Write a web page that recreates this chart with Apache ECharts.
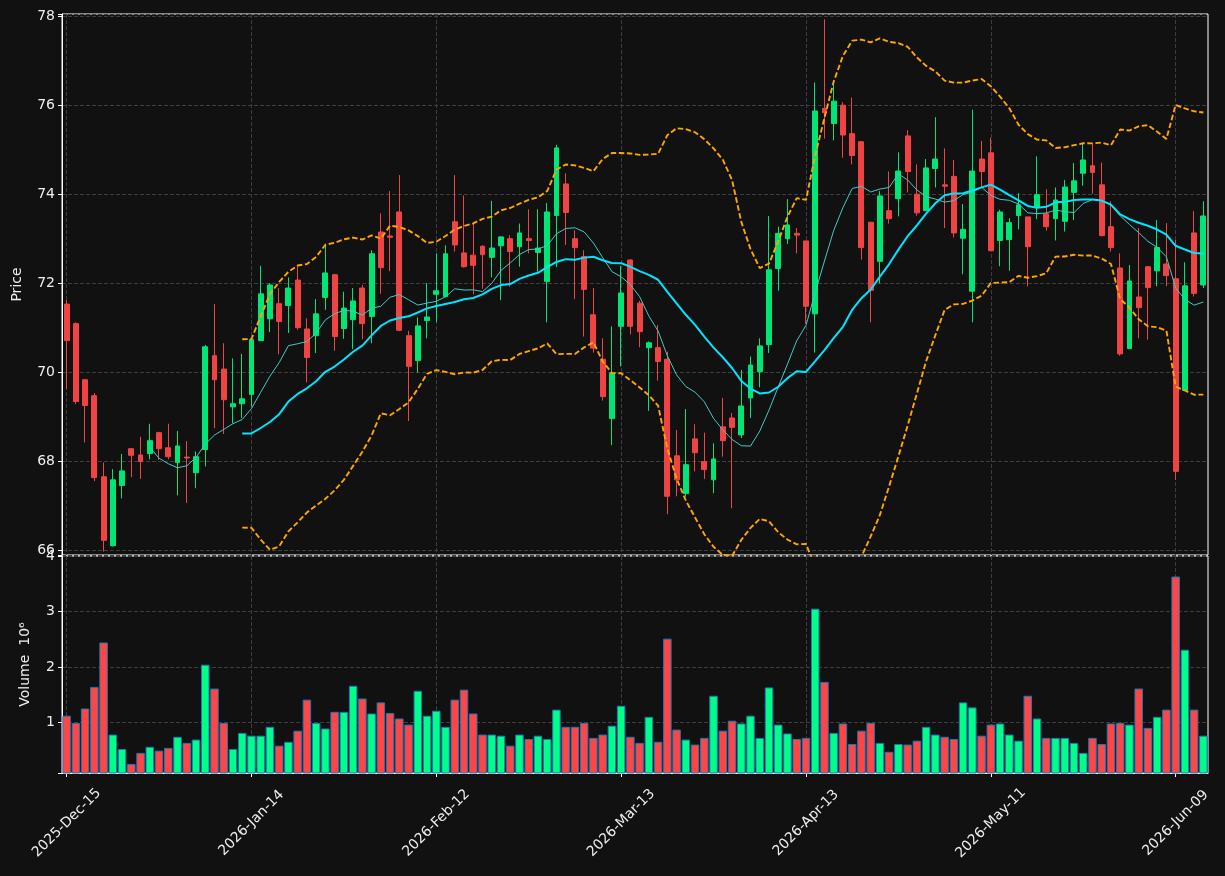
<!DOCTYPE html>
<html><head><meta charset="utf-8">
<script src="https://cdn.jsdelivr.net/npm/echarts@6/dist/echarts.min.js"></script>
<style>html,body{margin:0;padding:0;background:#111111;}#c{width:1225px;height:876px;}</style>
</head><body><div id="c"></div>
<script>
const dates = [
'2025-Dec-15','2025-Dec-16','2025-Dec-17','2025-Dec-18','2025-Dec-19','2025-Dec-22','2025-Dec-23','2025-Dec-24','2025-Dec-26','2025-Dec-29','2025-Dec-30','2025-Dec-31',
'2026-Jan-02','2026-Jan-05','2026-Jan-06','2026-Jan-07','2026-Jan-08','2026-Jan-09','2026-Jan-12','2026-Jan-13','2026-Jan-14','2026-Jan-15','2026-Jan-16','2026-Jan-20','2026-Jan-21','2026-Jan-22','2026-Jan-23','2026-Jan-26','2026-Jan-27','2026-Jan-28','2026-Jan-29','2026-Jan-30',
'2026-Feb-02','2026-Feb-03','2026-Feb-04','2026-Feb-05','2026-Feb-06','2026-Feb-09','2026-Feb-10','2026-Feb-11','2026-Feb-12','2026-Feb-13','2026-Feb-17','2026-Feb-18','2026-Feb-19','2026-Feb-20','2026-Feb-23','2026-Feb-24','2026-Feb-25','2026-Feb-26','2026-Feb-27',
'2026-Mar-02','2026-Mar-03','2026-Mar-04','2026-Mar-05','2026-Mar-06','2026-Mar-09','2026-Mar-10','2026-Mar-11','2026-Mar-12','2026-Mar-13','2026-Mar-16','2026-Mar-17','2026-Mar-18','2026-Mar-19','2026-Mar-20','2026-Mar-23','2026-Mar-24','2026-Mar-25','2026-Mar-26','2026-Mar-27','2026-Mar-30','2026-Mar-31',
'2026-Apr-01','2026-Apr-02','2026-Apr-06','2026-Apr-07','2026-Apr-08','2026-Apr-09','2026-Apr-10','2026-Apr-13','2026-Apr-14','2026-Apr-15','2026-Apr-16','2026-Apr-17','2026-Apr-20','2026-Apr-21','2026-Apr-22','2026-Apr-23','2026-Apr-24','2026-Apr-27','2026-Apr-28','2026-Apr-29','2026-Apr-30',
'2026-May-01','2026-May-04','2026-May-05','2026-May-06','2026-May-07','2026-May-08','2026-May-11','2026-May-12','2026-May-13','2026-May-14','2026-May-15','2026-May-18','2026-May-19','2026-May-20','2026-May-21','2026-May-22','2026-May-26','2026-May-27','2026-May-28','2026-May-29',
'2026-Jun-01','2026-Jun-02','2026-Jun-03','2026-Jun-04','2026-Jun-05','2026-Jun-08','2026-Jun-09','2026-Jun-10','2026-Jun-11','2026-Jun-12'
];
const open = [71.53,71.09,69.83,69.47,67.65,66.10,67.45,68.28,68.14,68.17,68.64,68.30,67.97,68.09,67.74,68.26,70.37,70.07,69.22,69.29,
69.50,70.71,71.20,71.54,71.50,72.07,70.97,70.82,71.68,72.19,70.98,71.18,71.89,71.25,73.15,73.06,73.60,70.82,70.26,71.16,
71.75,71.70,73.38,72.68,72.63,72.83,72.58,72.84,73.00,72.82,73.00,72.69,72.04,73.52,74.23,73.00,72.60,71.29,70.29,68.96,
71.03,72.52,71.55,70.55,70.55,70.29,68.12,67.27,68.50,67.99,67.58,68.77,68.97,68.59,69.42,70.01,70.62,72.33,73.00,73.12,
72.95,71.31,75.93,75.59,76.00,75.36,75.18,73.37,72.49,73.63,73.90,75.31,74.00,73.63,74.58,74.21,74.40,73.01,71.82,74.79,
74.93,72.96,72.98,73.52,73.49,73.72,73.56,73.45,73.39,74.04,74.47,74.64,74.21,73.27,72.34,70.53,71.69,72.37,72.28,72.43,
72.10,69.59,73.13,71.96];
const close = [70.71,69.34,69.25,67.63,66.22,67.58,67.78,68.13,67.99,68.46,68.28,68.10,68.34,68.07,68.10,70.57,69.83,69.38,69.29,69.40,
70.73,71.76,71.96,71.14,71.89,71.00,70.33,71.31,72.23,70.80,71.44,71.60,71.09,72.66,72.35,73.03,70.94,70.13,71.04,71.24,
71.83,72.66,72.86,72.37,72.40,72.64,72.79,73.04,72.71,73.13,72.96,72.79,73.60,75.04,73.59,72.80,71.86,70.54,69.45,69.98,
71.78,71.03,70.91,70.66,70.24,67.21,67.58,67.92,68.19,67.81,68.05,68.46,68.76,69.24,70.16,70.59,72.30,73.12,73.31,73.08,
71.48,75.87,75.83,76.09,75.33,74.87,72.80,71.84,73.96,73.45,74.52,74.51,73.58,74.59,74.79,74.18,73.13,73.21,74.52,74.51,
72.73,73.60,73.36,73.76,72.82,73.99,73.27,73.87,74.16,74.30,74.77,74.49,73.07,72.80,70.41,72.05,71.45,71.90,72.80,72.17,
67.77,71.94,71.77,73.51];
const high = [71.62,71.12,69.85,69.53,67.97,67.82,68.16,68.29,68.55,68.84,68.66,68.84,68.68,68.45,68.22,70.61,71.53,70.65,70.31,70.41,
70.75,72.39,72.00,71.89,72.13,72.39,71.21,71.64,72.84,72.21,71.81,71.89,71.96,72.74,73.57,74.07,74.43,70.93,71.23,72.00,
72.67,72.85,74.43,73.97,73.34,72.85,73.85,73.06,73.08,73.34,73.66,73.66,73.80,75.11,74.47,73.19,72.74,71.89,70.76,71.03,
72.39,72.54,71.60,70.69,71.06,70.46,68.70,69.17,68.83,68.64,68.40,69.42,69.08,70.05,70.35,70.76,73.51,73.27,73.89,73.24,
72.95,76.51,77.93,76.47,76.07,76.17,75.18,73.37,74.07,74.51,74.94,75.44,74.67,74.79,75.73,75.03,74.77,73.78,75.90,75.20,
75.27,73.65,73.46,74.02,73.49,74.85,74.11,74.15,74.32,74.70,75.15,75.15,74.71,73.84,72.67,72.41,73.24,72.37,73.42,73.35,
72.97,72.47,73.62,73.84];
const low = [69.62,69.28,68.42,67.55,65.97,66.08,67.16,67.64,67.60,68.04,68.03,68.04,67.23,67.06,67.39,67.88,68.74,68.61,68.85,68.97,
69.23,70.70,70.90,70.40,70.88,70.95,69.77,70.43,71.40,70.48,70.75,70.52,70.74,70.65,71.76,72.27,70.92,68.90,69.99,70.76,
71.12,71.68,72.71,72.35,71.75,71.87,72.13,71.62,71.92,72.37,72.67,72.26,71.12,72.36,72.86,71.64,70.80,70.44,69.36,68.36,
70.13,70.85,70.56,69.13,69.81,66.81,67.21,67.20,67.77,67.60,67.28,68.10,66.94,68.52,68.97,69.66,70.43,71.83,72.88,72.67,
71.09,70.44,75.25,75.21,74.82,74.67,72.53,71.12,71.99,73.34,73.50,74.04,73.52,73.62,74.15,73.24,73.03,72.20,71.12,74.16,
72.72,72.38,72.28,73.21,71.93,73.44,73.18,72.96,73.16,73.42,74.19,74.01,73.05,72.71,70.37,70.53,70.76,70.73,71.93,71.93,
67.58,69.59,71.70,71.89];
const volume = [1.12,0.99,1.25,1.64,2.44,0.78,0.52,0.25,0.45,0.56,
0.49,0.54,0.74,0.63,0.69,2.04,1.61,0.99,0.52,0.81,
0.76,0.76,0.92,0.58,0.65,0.85,1.41,0.99,0.89,1.19,
1.19,1.66,1.43,1.16,1.36,1.17,1.07,0.96,1.57,1.12,
1.21,0.92,1.41,1.59,1.16,0.78,0.78,0.76,0.58,0.78,
0.70,0.76,0.70,1.23,0.92,0.92,0.99,0.72,0.78,0.94,
1.30,0.74,0.63,1.10,0.65,2.51,0.87,0.69,0.60,0.72,
1.48,0.85,1.03,0.98,1.12,0.72,1.63,0.96,0.80,0.70,
0.72,3.05,1.73,0.81,0.98,0.61,0.85,0.99,0.63,0.47,
0.61,0.60,0.67,0.92,0.78,0.74,0.70,1.36,1.27,0.76,
0.96,0.98,0.78,0.67,1.48,1.07,0.72,0.72,0.72,0.63,
0.45,0.72,0.61,0.98,0.99,0.96,1.61,0.90,1.10,1.23,
3.63,2.31,1.23,0.76];
const priceTicks = [66,68,70,72,74,76,78];
const volumeTicks = [1,2,3,4];

const UP = '#00e676', DOWN = '#f04444', VUP = '#00ff88', VDOWN = '#ff4646';

function sma(arr, n) {
  return arr.map((v, i) => {
    if (i < n - 1) return '-';
    let s = 0; for (let k = i - n + 1; k <= i; k++) s += arr[k];
    return +(s / n).toFixed(4);
  });
}
function band(arr, n, k, sign) {
  return arr.map((v, i) => {
    if (i < n - 1) return '-';
    let s = 0; for (let j = i - n + 1; j <= i; j++) s += arr[j];
    const m = s / n; let q = 0;
    for (let j = i - n + 1; j <= i; j++) q += (arr[j] - m) * (arr[j] - m);
    return +(m + sign * k * Math.sqrt(q / n)).toFixed(4);
  });
}
const ma10 = sma(close, 10), ma20 = sma(close, 20);
const bbUp = band(close, 20, 2, 1), bbLo = band(close, 20, 2, -1);
const candles = dates.map((d, i) => [open[i], close[i], low[i], high[i]]);
const vols = volume.map((v, i) => ({ value: v, itemStyle: { color: close[i] >= open[i] ? VUP : VDOWN } }));

const gridLine = { show: true, lineStyle: { color: '#3e3e3e', type: [4, 2], width: 1 } };
const lab = { color: '#eeeeee', fontSize: 14, fontFamily: 'DejaVu Sans' };
function tickFmt(list) {
  return v => { const r = Math.round(v); return (Math.abs(v - r) < 1e-6 && list.indexOf(r) >= 0) ? String(r) : ''; };
}

const chart = echarts.init(document.getElementById('c'), null, { renderer: 'canvas' });
chart.setOption({
  backgroundColor: '#111111',
  animation: false,
  grid: [
    { left: 62, width: 1146, top: 14, height: 541, show: true, borderColor: '#ffffff', borderWidth: 1, backgroundColor: '#111111' },
    { left: 62, width: 1146, top: 556, height: 217, show: true, borderColor: '#ffffff', borderWidth: 1, backgroundColor: '#111111' }
  ],
  xAxis: [
    { type: 'category', gridIndex: 0, data: dates, boundaryGap: true,
      axisLine: { show: false }, axisTick: { show: false }, axisLabel: { show: false },
      splitLine: Object.assign({ interval: 19, alignWithLabel: true }, gridLine) },
    { type: 'category', gridIndex: 1, data: dates, boundaryGap: true,
      axisLine: { show: true, lineStyle: { color: '#ffffff' } },
      axisTick: { show: true, interval: 19, alignWithLabel: true, length: 4, lineStyle: { color: '#ffffff' } },
      axisLabel: Object.assign({ interval: 19, rotate: 45, align: 'center', verticalAlign: 'middle', margin: 50 }, lab),
      splitLine: Object.assign({ interval: 19, alignWithLabel: true }, gridLine) }
  ],
  yAxis: [
    { type: 'value', gridIndex: 0, min: 65.89, max: 78.05, scale: true,
      name: 'Price', nameLocation: 'middle', nameGap: 38, nameRotate: 90,
      nameTextStyle: { color: '#eeeeee', fontSize: 14, fontFamily: 'DejaVu Sans' },
      axisLine: { show: true, lineStyle: { color: '#ffffff' } },
      axisTick: { show: true, length: 4, lineStyle: { color: '#ffffff' } },
      axisLabel: Object.assign({ formatter: tickFmt(priceTicks), margin: 7 }, lab),
      splitLine: gridLine },
    { type: 'value', gridIndex: 1, min: 0.087, max: 4.0, scale: true,
      name: 'Volume  10\u2076', nameLocation: 'middle', nameGap: 30, nameRotate: 90,
      nameTextStyle: { color: '#eeeeee', fontSize: 14, fontFamily: 'DejaVu Sans' },
      axisLine: { show: true, lineStyle: { color: '#ffffff' } },
      axisTick: { show: true, length: 4, lineStyle: { color: '#ffffff' } },
      axisLabel: Object.assign({ formatter: tickFmt(volumeTicks), margin: 7 }, lab),
      splitLine: gridLine }
  ],
  series: [
    { type: 'candlestick', xAxisIndex: 0, yAxisIndex: 0, data: candles, barWidth: '58%',
      itemStyle: { color: UP, color0: DOWN, borderColor: UP, borderColor0: DOWN, borderWidth: 1 } },
    { type: 'line', xAxisIndex: 0, yAxisIndex: 0, data: ma10, symbol: 'none', smooth: false,
      lineStyle: { color: '#45c8c8', width: 1 } },
    { type: 'line', xAxisIndex: 0, yAxisIndex: 0, data: ma20, symbol: 'none',
      lineStyle: { color: '#00e5ff', width: 2 } },
    { type: 'line', xAxisIndex: 0, yAxisIndex: 0, data: bbUp, symbol: 'none',
      lineStyle: { color: '#ffa500', width: 1.9, type: [5.5, 2.6] } },
    { type: 'line', xAxisIndex: 0, yAxisIndex: 0, data: bbLo, symbol: 'none',
      lineStyle: { color: '#ffa500', width: 1.9, type: [5.5, 2.6] } },
    { type: 'bar', xAxisIndex: 1, yAxisIndex: 1, data: vols, barWidth: '92%',
      itemStyle: { borderColor: '#1f77b4', borderWidth: 1 } }
  ]
});
</script>
</body></html>
